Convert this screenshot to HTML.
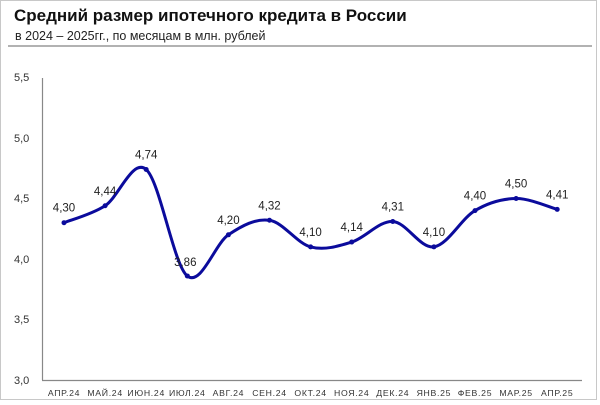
<!DOCTYPE html>
<html><head><meta charset="utf-8"><style>
body{margin:0;background:#fff;}
svg{display:block;font-family:"Liberation Sans","DejaVu Sans",sans-serif;}
</style></head><body>
<svg id="s" width="600" height="405" viewBox="0 0 600 405">
<rect x="0.5" y="0.5" width="596" height="399" fill="#fff" stroke="#c8c8c8"/>
<text x="14" y="21" font-size="17" font-weight="bold" fill="#111">Средний размер ипотечного кредита в России</text>
<text x="15" y="40" font-size="12.5" fill="#222">в 2024 – 2025гг., по месяцам в млн. рублей</text>
<line x1="8" y1="46" x2="592" y2="46" stroke="#999" stroke-width="1.5"/>
<g font-size="11" fill="#333">
<text x="14" y="81">5,5</text><text x="14" y="142">5,0</text><text x="14" y="202">4,5</text>
<text x="14" y="263">4,0</text><text x="14" y="323">3,5</text><text x="14" y="384">3,0</text>
</g>
<line x1="42.5" y1="78" x2="42.5" y2="380" stroke="#888" stroke-width="1.2"/>
<line x1="42" y1="380.5" x2="582" y2="380.5" stroke="#888" stroke-width="1.2"/>
<g id="xl" font-size="8.7" fill="#333" text-anchor="middle" letter-spacing="0.7"></g>
<path id="ln" fill="none" stroke="#0b0b9c" stroke-width="3"/>
<g id="dots" fill="#0b0b9c"></g>
<g id="vl" font-size="11.5" fill="#222" text-anchor="middle"></g>
</svg>
<script>
var v=[4.30,4.44,4.74,3.86,4.20,4.32,4.10,4.14,4.31,4.10,4.40,4.50,4.41];
var m=["АПР.24","МАЙ.24","ИЮН.24","ИЮЛ.24","АВГ.24","СЕН.24","ОКТ.24","НОЯ.24","ДЕК.24","ЯНВ.25","ФЕВ.25","МАР.25","АПР.25"];
var p=v.map(function(a,i){return [64+41.1*i,380-(a-3)*121];});
var d="M"+p[0][0]+","+p[0][1];
for(var i=0;i<p.length-1;i++){var a=p[i-1]||p[i],b=p[i],c=p[i+1],e=p[i+2]||c;
d+=" C"+(b[0]+(c[0]-a[0])/6)+","+(b[1]+(c[1]-a[1])/6)+" "+(c[0]-(e[0]-b[0])/6)+","+(c[1]-(e[1]-b[1])/6)+" "+c[0]+","+c[1];}
document.getElementById("ln").setAttribute("d",d);
var ns="http://www.w3.org/2000/svg",g1=document.getElementById("dots"),g2=document.getElementById("vl"),g3=document.getElementById("xl");
p.forEach(function(q,i){
var c=document.createElementNS(ns,"circle");c.setAttribute("cx",q[0]);c.setAttribute("cy",q[1]);c.setAttribute("r",2.5);g1.appendChild(c);
var t=document.createElementNS(ns,"text");t.setAttribute("x",q[0]-(i==3?2:0));t.setAttribute("y",i==3?q[1]-10:q[1]-11);t.textContent=v[i].toFixed(2).replace(".",",");g2.appendChild(t);
var x=document.createElementNS(ns,"text");x.setAttribute("x",q[0]);x.setAttribute("y",396);x.textContent=m[i];g3.appendChild(x);});
</script>
</body></html>
